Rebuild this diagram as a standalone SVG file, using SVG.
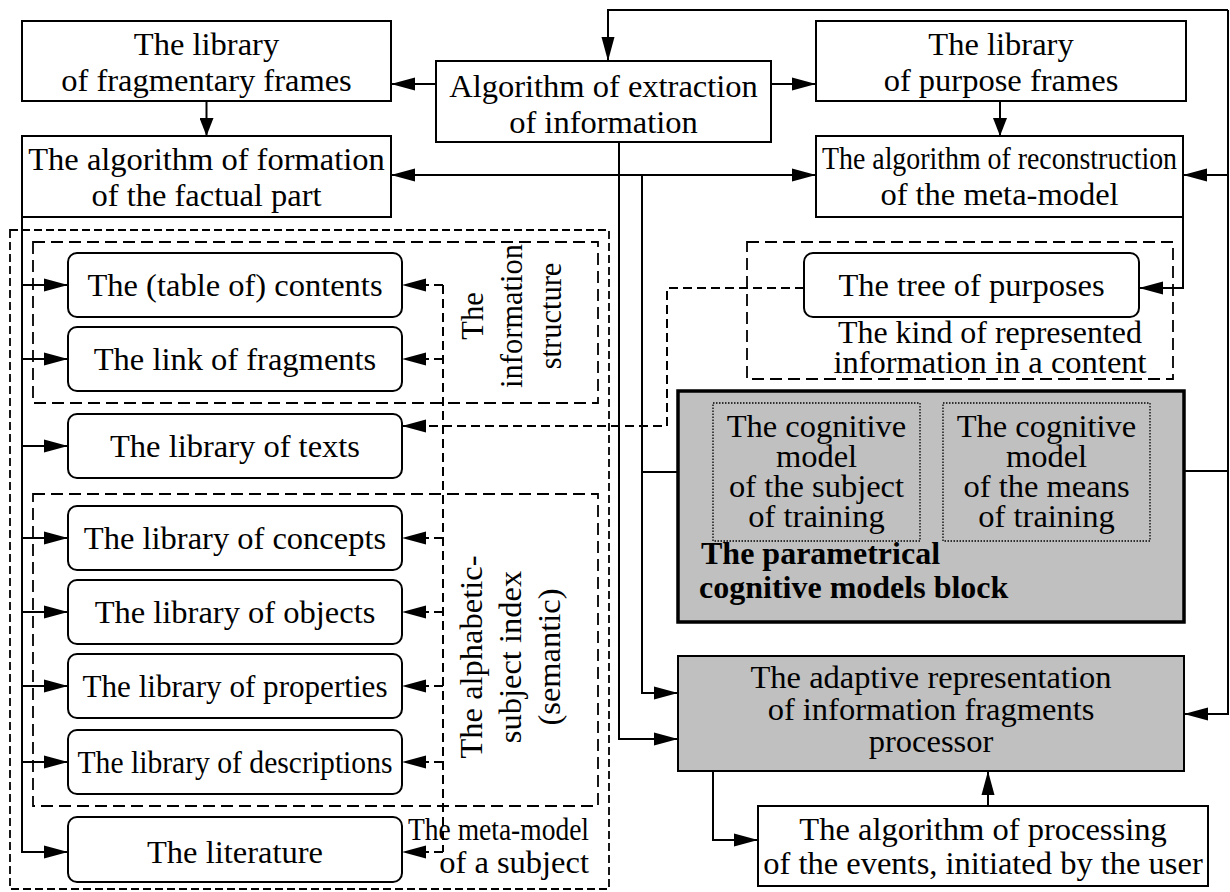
<svg xmlns="http://www.w3.org/2000/svg" width="1230" height="892" viewBox="0 0 1230 892">
<style>
text{font-family:"Liberation Serif","Times New Roman",serif;font-size:32.5px;fill:#000}
.c{text-anchor:middle}
.b{font-weight:bold;font-size:32px}
.box{fill:#fff;stroke:#000;stroke-width:2}
.gray{fill:#c0c0c0;stroke:#000;stroke-width:2}
.thick{fill:#c0c0c0;stroke:#000;stroke-width:3.5}
.dot{fill:none;stroke:#000;stroke-width:1.3;stroke-dasharray:1.5 1.5}
.dsh1{fill:none;stroke:#000;stroke-width:1.8;stroke-dasharray:8 4}
.dsh2{fill:none;stroke:#000;stroke-width:1.8;stroke-dasharray:12 6}
.ln{fill:none;stroke:#000;stroke-width:2}
.dl{fill:none;stroke:#000;stroke-width:2;stroke-dasharray:9 5}
</style>
<defs>
<marker id="ah" markerUnits="userSpaceOnUse" markerWidth="24" markerHeight="14" refX="24" refY="6.5" orient="auto-start-reverse" viewBox="0 0 24 13"><path d="M0,0 L24,6.5 L0,13 z" fill="#000"/></marker>
<marker id="as" markerUnits="userSpaceOnUse" markerWidth="18" markerHeight="14" refX="18" refY="7" orient="auto-start-reverse" viewBox="0 0 18 14"><path d="M0,0 L18,7 L0,14 z" fill="#000"/></marker>
</defs>

<!-- containers -->
<g id="metamodel">
<rect class="dsh1" x="10" y="230" width="599" height="659"/>
<text x="589" y="840" style="text-anchor:end" textLength="181" lengthAdjust="spacingAndGlyphs">The meta-model</text>
<text x="589" y="873" style="text-anchor:end">of a subject</text>
</g>
<g id="infostructure">
<rect class="dsh2" x="33" y="242" width="565" height="161"/>
<text transform="translate(0,316) rotate(-90)" class="c" style="font-size:30.5px"><tspan x="0" y="483">The</tspan><tspan x="0" y="522">information</tspan><tspan x="0" y="561">structure</tspan></text>
</g>
<g id="alphabetic">
<rect class="dsh2" x="33" y="494" width="565" height="312"/>
<text transform="translate(0,657) rotate(-90)" class="c"><tspan x="0" y="482">The alphabetic-</tspan><tspan x="0" y="521">subject index</tspan><tspan x="0" y="560">(semantic)</tspan></text>
</g>
<g id="kind">
<rect class="dsh2" x="747" y="242" width="426" height="137"/>
<text x="990" y="343" class="c" textLength="304" lengthAdjust="spacingAndGlyphs">The kind of represented</text>
<text x="990" y="373" class="c">information in a content</text>
</g>

<!-- connectors -->
<g id="connectors">
<path class="ln" d="M206.5,101 V136" marker-end="url(#as)"/>
<path class="ln" d="M1000,101 V136" marker-end="url(#as)"/>
<path class="ln" d="M436,84 H391" marker-end="url(#ah)"/>
<path class="ln" d="M771,84 H816" marker-end="url(#ah)"/>
<path class="ln" d="M391,175 H816" marker-start="url(#ah)" marker-end="url(#ah)"/>
<path class="ln" d="M1228,10 H608 V61" marker-end="url(#ah)"/>
<path class="ln" d="M1228,10 V714 H1184" marker-end="url(#ah)"/>
<path class="ln" d="M1228,175 H1183" marker-end="url(#ah)"/>
<path class="ln" d="M1183,217 V288 H1139" marker-end="url(#ah)"/>
<path class="ln" d="M619,142 V739 H678" marker-end="url(#ah)"/>
<path class="ln" d="M642,175 V693 H678" marker-end="url(#ah)"/>
<path class="ln" d="M642,472 H713"/>
<path class="ln" d="M1150,471 H1228"/>
<path class="ln" d="M988,806 V771" marker-end="url(#ah)"/>
<path class="ln" d="M713,771 V840 H758" marker-end="url(#ah)"/>
<path class="ln" d="M22,217 V852 H68" marker-end="url(#ah)"/>
<path class="ln" d="M22,285 H68" marker-end="url(#ah)"/>
<path class="ln" d="M22,359 H68" marker-end="url(#ah)"/>
<path class="ln" d="M22,446 H68" marker-end="url(#ah)"/>
<path class="ln" d="M22,538 H68" marker-end="url(#ah)"/>
<path class="ln" d="M22,612 H68" marker-end="url(#ah)"/>
<path class="ln" d="M22,686 H68" marker-end="url(#ah)"/>
<path class="ln" d="M22,762 H68" marker-end="url(#ah)"/>
<path class="dl" d="M804,288 H667 V426 H402" marker-end="url(#ah)"/>
<path class="dl" d="M443,285 V852"/>
<path class="dl" d="M443,285 H402" marker-end="url(#ah)"/>
<path class="dl" d="M443,359 H402" marker-end="url(#ah)"/>
<path class="dl" d="M443,538 H402" marker-end="url(#ah)"/>
<path class="dl" d="M443,612 H402" marker-end="url(#ah)"/>
<path class="dl" d="M443,686 H402" marker-end="url(#ah)"/>
<path class="dl" d="M443,762 H402" marker-end="url(#ah)"/>
<path class="dl" d="M443,852 H402" marker-end="url(#ah)"/>
</g>

<!-- nodes -->
<g id="fragframes">
<rect class="box" x="22" y="21" width="369" height="80"/>
<text x="206.5" y="55" class="c">The library</text>
<text x="206.5" y="91" class="c">of fragmentary frames</text>
</g>
<g id="formation">
<rect class="box" x="22" y="136" width="369" height="81"/>
<text x="206.5" y="170" class="c">The algorithm of formation</text>
<text x="206.5" y="206" class="c">of the factual part</text>
</g>
<g id="extraction">
<rect class="box" x="436" y="61" width="335" height="81"/>
<text x="603.5" y="97" class="c">Algorithm of extraction</text>
<text x="603.5" y="133" class="c">of information</text>
</g>
<g id="purposeframes">
<rect class="box" x="816" y="21" width="370" height="80"/>
<text x="1001" y="55" class="c">The library</text>
<text x="1001" y="91" class="c">of purpose frames</text>
</g>
<g id="reconstruction">
<rect class="box" x="816" y="136" width="367" height="81"/>
<text x="999.5" y="169" class="c" textLength="355" lengthAdjust="spacingAndGlyphs">The algorithm of reconstruction</text>
<text x="999.5" y="205" class="c">of the meta-model</text>
</g>
<g id="tree">
<rect class="box" x="804" y="253" width="335" height="64" rx="9"/>
<text x="971.5" y="296" class="c">The tree of purposes</text>
</g>
<g id="contents">
<rect class="box" x="68" y="253" width="334" height="64" rx="9"/>
<text x="235" y="296" class="c">The (table of) contents</text>
</g>
<g id="link">
<rect class="box" x="68" y="327" width="334" height="64" rx="9"/>
<text x="235" y="370" class="c">The link of fragments</text>
</g>
<g id="texts">
<rect class="box" x="68" y="414" width="334" height="64" rx="9"/>
<text x="235" y="457" class="c">The library of texts</text>
</g>
<g id="concepts">
<rect class="box" x="68" y="506" width="334" height="64" rx="9"/>
<text x="235" y="549" class="c">The library of concepts</text>
</g>
<g id="objects">
<rect class="box" x="68" y="580" width="334" height="64" rx="9"/>
<text x="235" y="623" class="c">The library of objects</text>
</g>
<g id="properties">
<rect class="box" x="68" y="654" width="334" height="64" rx="9"/>
<text x="235" y="697" class="c" textLength="305" lengthAdjust="spacingAndGlyphs">The library of properties</text>
</g>
<g id="descriptions">
<rect class="box" x="68" y="730" width="334" height="64" rx="9"/>
<text x="235" y="773" class="c" textLength="315" lengthAdjust="spacingAndGlyphs">The library of descriptions</text>
</g>
<g id="literature">
<rect class="box" x="68" y="817" width="334" height="65" rx="9"/>
<text x="235" y="863" class="c">The literature</text>
</g>
<g id="parametrical">
<rect class="thick" x="678" y="391" width="506" height="231"/>
<rect class="dot" x="713" y="403" width="207" height="138"/>
<rect class="dot" x="943" y="403" width="207" height="138"/>
<text class="c"><tspan x="816.5" y="437">The cognitive</tspan><tspan x="816.5" y="467">model</tspan><tspan x="816.5" y="497">of the subject</tspan><tspan x="816.5" y="527">of training</tspan></text>
<text class="c"><tspan x="1046.5" y="437">The cognitive</tspan><tspan x="1046.5" y="467">model</tspan><tspan x="1046.5" y="497">of the means</tspan><tspan x="1046.5" y="527">of training</tspan></text>
<text class="b" x="701" y="564">The parametrical</text>
<text class="b" x="699" y="598">cognitive models block</text>
</g>
<g id="adaptive">
<rect class="gray" x="678" y="656" width="506" height="115"/>
<text x="931" y="688" class="c">The adaptive representation</text>
<text x="931" y="720" class="c">of information fragments</text>
<text x="931" y="752" class="c">processor</text>
</g>
<g id="processing">
<rect class="box" x="758" y="806" width="450" height="80"/>
<text x="983" y="840" class="c">The algorithm of processing</text>
<text x="983" y="874" class="c">of the events, initiated by the user</text>
</g>
</svg>
